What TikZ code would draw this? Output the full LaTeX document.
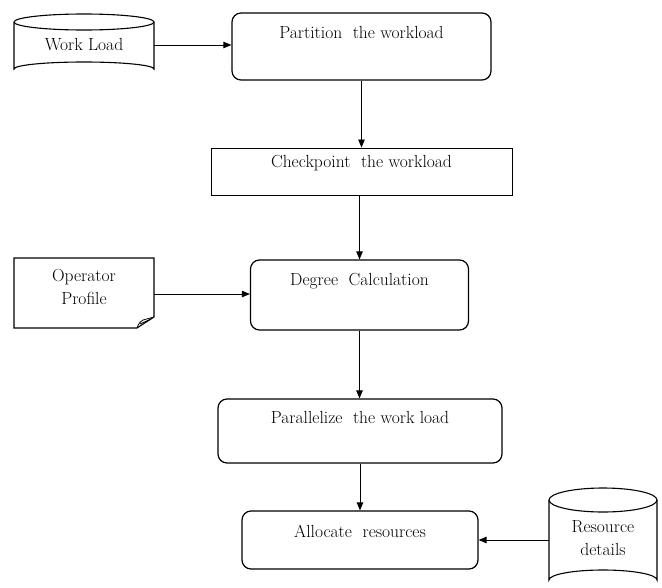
\documentclass[tikz,border=0pt]{standalone}
\usetikzlibrary{arrows.meta,calc}
\begin{document}
\begin{tikzpicture}[x=1pt,y=-1pt,
  every node/.style={font=\fontsize{17.5}{23}\selectfont},
  every label/.style={font=\fontsize{17.5}{23}\selectfont},
  rbox/.style={draw, line width=1.2pt, rounded corners=9pt, inner sep=0pt},
  pbox/.style={draw, line width=1pt, inner sep=0pt},
  ghost/.style={inner sep=0pt, align=center},
  shp/.style={line width=1.1pt},
  arr/.style={line width=0.9pt, -{Triangle[length=8pt,width=6.5pt]}}]
\useasboundingbox (0,0) rectangle (662,587);

% Work Load cylinder
\node[ghost, minimum width=140, minimum height=64] (wl) at (84,45) {Work Load};
\draw[shp] (14,22) arc[start angle=180, end angle=-180, x radius=70, y radius=8];
\draw[shp] (14,22) -- (14,69) arc[start angle=180, end angle=360, x radius=70, y radius=7] -- (154,22);

% Partition
\node[rbox, minimum width=259, minimum height=67,
  label={[anchor=center, yshift=-20pt]north:{Partition\ \ the workload}}] (part) at (361.5,46.5) {};

% Checkpoint
\node[pbox, minimum width=301, minimum height=47,
  label={[anchor=center, yshift=-16pt]north:{Checkpoint\ \ the workload}}] (chk) at (361.5,171.5) {};

% Degree Calculation
\node[rbox, minimum width=218, minimum height=70,
  label={[anchor=center, yshift=-22pt]north:{Degree\ \ Calculation}}] (deg) at (359.5,295) {};

% Operator Profile
\node[ghost] (op) at (84,287) {Operator\\Profile};
\coordinate (opr) at (154,294);
\draw[shp] (14,258) -- (154,258) -- (154,317) -- (137,328) -- (14,328) -- cycle;
\draw[line width=0.8pt] (137,328) .. controls (139,323) .. (143,320) -- (154,317);
\draw[line width=0.8pt] (140,324) -- (151,319);

% Parallelize
\node[rbox, minimum width=284, minimum height=64,
  label={[anchor=center, yshift=-19pt]north:{Parallelize\ \ the work load}}] (par) at (360,431) {};

% Allocate
\node[rbox, minimum width=236, minimum height=58,
  label={[anchor=center, yshift=-21pt]north:{Allocate\ \ resources}}] (alloc) at (360,540) {};

% Resource details cylinder
\node[ghost] (res) at (603,538) {Resource\\details};
\draw[shp] (549,500) arc[start angle=180, end angle=-180, x radius=54, y radius=12];
\draw[shp] (549,500) -- (549,580) arc[start angle=180, end angle=360, x radius=54, y radius=10] -- (657,500);
\coordinate (resw) at (549,540);

% connectors
\draw[arr] (wl.east) -- (wl.east -| part.west);
\draw[arr] (part.south) -- (part.south |- chk.north);
\draw[arr] (chk.south -| deg.north) -- (deg.north);
\draw[arr] (opr) -- (opr -| deg.west);
\draw[arr] (deg.south) -- (deg.south |- par.north);
\draw[arr] (par.south) -- (par.south |- alloc.north);
\draw[arr] (resw) -- (resw -| alloc.east);
\end{tikzpicture}
\end{document}
